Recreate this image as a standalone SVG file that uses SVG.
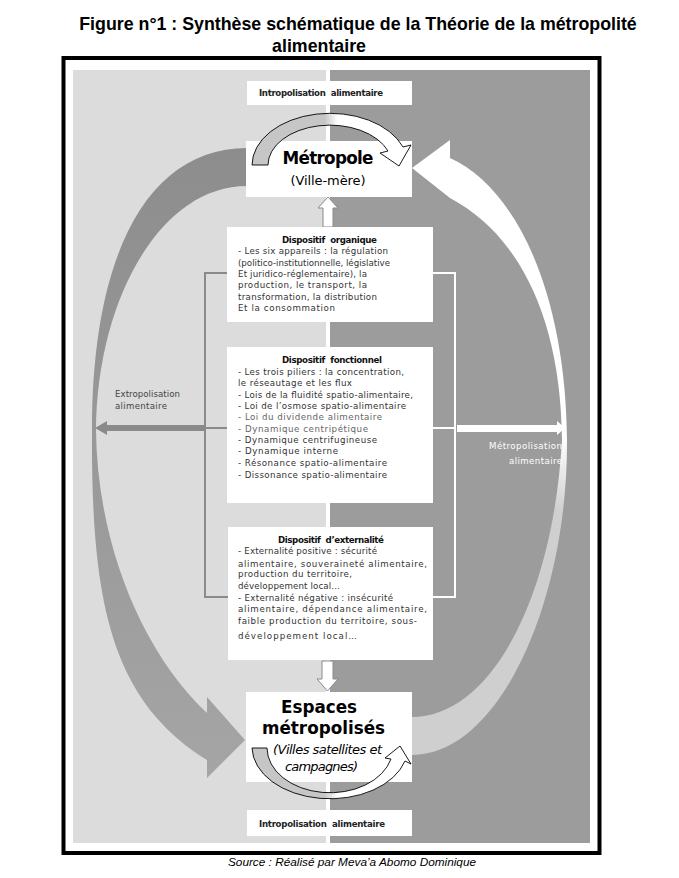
<svg xmlns="http://www.w3.org/2000/svg" width="679" height="878" viewBox="0 0 679 878">
<style>
.ttl{font-family:"Liberation Sans",Arial,sans-serif;font-weight:bold;font-size:17.8px;fill:#000}
.src{font-family:"Liberation Sans",Arial,sans-serif;font-style:italic;font-size:11.8px;fill:#000}
.box{fill:#fff}
.body{font-family:"DejaVu Sans",sans-serif;font-size:8.7px;fill:#333}
.lite{fill:#666}
.hd{font-family:"DejaVu Sans",sans-serif;font-size:8.7px;font-weight:bold;fill:#111}
.intro{font-family:"DejaVu Sans",sans-serif;font-size:8.6px;font-weight:bold;fill:#222}
.big{font-family:"DejaVu Sans",sans-serif;font-weight:bold;font-size:16.8px;fill:#000}
.sub{font-family:"DejaVu Sans",sans-serif;font-size:13px;fill:#000}
.side{font-family:"DejaVu Sans",sans-serif;font-size:8.6px}
.uarrow{stroke:#000;stroke-width:0.9}
.small{fill:#fff;stroke:#8a8a8a;stroke-width:1}
</style>
<defs>
<linearGradient id="gL" gradientUnits="userSpaceOnUse" x1="0" y1="148" x2="0" y2="780">
<stop offset="0" stop-color="#8d8d8d"/><stop offset="1" stop-color="#a5a5a5"/>
</linearGradient>
<linearGradient id="gR" gradientUnits="userSpaceOnUse" x1="0" y1="140" x2="0" y2="760">
<stop offset="0" stop-color="#ffffff"/><stop offset="0.48" stop-color="#ffffff"/><stop offset="0.6" stop-color="#cfcfcf"/><stop offset="1" stop-color="#cfcfcf"/>
</linearGradient>
<linearGradient id="gU" gradientUnits="userSpaceOnUse" x1="250" y1="0" x2="412" y2="0">
<stop offset="0" stop-color="#c6c6c6"/><stop offset="0.46" stop-color="#c6c6c6"/><stop offset="0.54" stop-color="#ffffff"/><stop offset="1" stop-color="#ffffff"/>
</linearGradient>
</defs>

<g id="title">
<text class="ttl" x="358" y="30" text-anchor="middle">Figure n°1 : Synthèse schématique de la Théorie de la métropolité</text>
<text class="ttl" x="319" y="52" text-anchor="middle">alimentaire</text>
</g>

<g id="frame">
<rect x="63.5" y="58" width="536" height="795" fill="#fff" stroke="#000" stroke-width="4"/>
<rect x="73" y="70" width="253" height="773" fill="#dcdcdc"/>
<rect x="330" y="70" width="260" height="773" fill="#9c9c9c"/>
</g>

<g id="connectors">
<path id="extro-arc" fill="url(#gL)" d="M247,148 C150,148 92,250 92,430 C91,600 110,700 207,760 L207,778 L245,740 L207,697 L207,713 C140,650 97,540 96,430 C97,300 160,186 247,186 Z"/>
<path id="metro-arc" fill="url(#gR)" d="M412,168 L450,140 L450,158 C520,190 566,300 567,440 C568,600 500,755 412,755 L412,717 C490,717 553,600 562,440 C561,320 520,235 450,198 Z"/>
<g id="bracket-left" fill="none" stroke="#8a8a8a" stroke-width="2">
<polyline points="228,273 205,273 205,597 228,597"/>
<line x1="205" y1="428" x2="228" y2="428"/>
</g>
<g id="bracket-right" fill="none" stroke="#fff" stroke-width="2">
<polyline points="433,273 455,273 455,597 433,597"/>
<line x1="433" y1="428" x2="455" y2="428"/>
</g>
<path id="arrow-extro" fill="#8a8a8a" d="M205,425 L107,425 L107,421 L95,428 L107,435 L107,431 L205,431 Z"/>
<path id="arrow-metro" fill="#fff" d="M457,425 L557,425 L557,421 L565,428 L557,435 L557,432 L457,432 Z"/>
<path id="arrow-up" class="small" d="M323,227 L323,208 L318,208 L328,197 L338,208 L333,208 L333,227 Z"/>
<path id="arrow-down" class="small" d="M322,661 L322,679 L317,679 L327.5,691 L338,679 L333,679 L333,661 Z"/>
</g>

<g id="intro-top">
<rect class="box" x="247" y="81" width="165" height="24"/>
<text class="intro" x="259" y="96" textLength="124">Intropolisation&#160; alimentaire</text>
</g>

<g id="metropole">
<rect class="box" x="246" y="141" width="166" height="56"/>
<text class="big" x="328" y="164" text-anchor="middle" textLength="91">Métropole</text>
<text class="sub" x="328" y="185" text-anchor="middle" textLength="75">(Ville-mère)</text>
</g>

<g id="disp-organique">
<rect class="box" x="227" y="227" width="206" height="95"/>
<text class="hd" x="329.5" y="243" text-anchor="middle" textLength="95">Dispositif&#160; organique</text>
<text class="body" x="238" y="254" textLength="150">- Les six appareils : la régulation</text>
<text class="body" x="238" y="265.5" textLength="152">(politico-institutionnelle, législative</text>
<text class="body" x="238" y="277" textLength="129">Et juridico-réglementaire), la</text>
<text class="body" x="238" y="288" textLength="129">production, le transport, la</text>
<text class="body" x="238" y="299.5" textLength="139">transformation, la distribution</text>
<text class="body" x="238" y="311" textLength="97">Et la consommation</text>
</g>

<g id="disp-fonctionnel">
<rect class="box" x="227" y="347" width="206" height="156"/>
<text class="hd" x="332" y="363" text-anchor="middle" textLength="100">Dispositif&#160; fonctionnel</text>
<text class="body" x="238" y="375" textLength="166">- Les trois piliers : la concentration,</text>
<text class="body" x="238" y="386" textLength="114">le réseautage et les flux</text>
<text class="body" x="238" y="397.5" textLength="175">- Lois de la fluidité spatio-alimentaire,</text>
<text class="body" x="238" y="409" textLength="168">- Loi de l’osmose spatio-alimentaire</text>
<text class="body lite" x="238" y="420" textLength="144">- Loi du dividende alimentaire</text>
<text class="body lite" x="238" y="431.5" textLength="130">- Dynamique centripétique</text>
<text class="body" x="238" y="442.5" textLength="139">- Dynamique centrifugineuse</text>
<text class="body" x="238" y="454" textLength="100">- Dynamique interne</text>
<text class="body" x="238" y="466" textLength="149">- Résonance spatio-alimentaire</text>
<text class="body" x="238" y="477.5" textLength="149">- Dissonance spatio-alimentaire</text>
</g>

<g id="disp-externalite">
<rect class="box" x="228" y="527" width="205" height="133"/>
<text class="hd" x="331" y="542.5" text-anchor="middle" textLength="106">Dispositif&#160; d’externalité</text>
<text class="body" x="238" y="554" textLength="139">- Externalité positive : sécurité</text>
<text class="body" x="238" y="566.5" textLength="189">alimentaire, souveraineté alimentaire,</text>
<text class="body" x="238" y="577" textLength="114">production du territoire,</text>
<text class="body" x="238" y="588.5" textLength="102">développement local…</text>
<text class="body" x="238" y="600.5" textLength="155">- Externalité négative : insécurité</text>
<text class="body" x="238" y="612" textLength="189">alimentaire, dépendance alimentaire,</text>
<text class="body" x="238" y="624" textLength="179">faible production du territoire, sous-</text>
<text class="body" x="238" y="639" textLength="119">développement local…</text>
</g>

<g id="espaces">
<rect class="box" x="246" y="692" width="166" height="90"/>
<text class="big" x="319" y="713" text-anchor="middle" font-size="18.5">Espaces</text>
<text class="big" x="323.5" y="734" text-anchor="middle" textLength="123">métropolisés</text>
<text class="sub" x="327.5" y="754" text-anchor="middle" font-style="italic" textLength="109">(Villes satellites et</text>
<text class="sub" x="321.5" y="771" text-anchor="middle" font-style="italic" textLength="73">campagnes)</text>
</g>

<g id="intro-bottom">
<rect class="box" x="247" y="810" width="165" height="26"/>
<text class="intro" x="259" y="827" textLength="126">Intropolisation&#160; alimentaire</text>
</g>

<g id="label-extro">
<text class="side" x="115" y="397" fill="#444" textLength="65">Extropolisation</text>
<text class="side" x="115" y="408.5" fill="#444" textLength="52">alimentaire</text>
</g>
<g id="label-metro">
<text class="side" x="562" y="449" fill="#fff" text-anchor="end" textLength="73">Métropolisation</text>
<text class="side" x="562" y="464" fill="#fff" text-anchor="end" textLength="53">alimentaire</text>
</g>

<g id="connectors-front">
<path id="intro-arrow-top" class="uarrow" fill="url(#gU)" d="M252,165 A78,52 0 0 1 403,147 L411,145 L399,166 L380,153 L388,151 A62,40 0 0 0 268,165 Z"/>
<path id="intro-arrow-bottom" class="uarrow" fill="url(#gU)" d="M252,748 A78,52 0 0 0 405,761 L411,764 L400,746 L385,758 L391,759 A63,45 0 0 1 267,748 Z"/>
</g>

<g id="source">
<text class="src" x="352" y="866" text-anchor="middle">Source : Réalisé par Meva’a Abomo Dominique</text>
</g>
</svg>
